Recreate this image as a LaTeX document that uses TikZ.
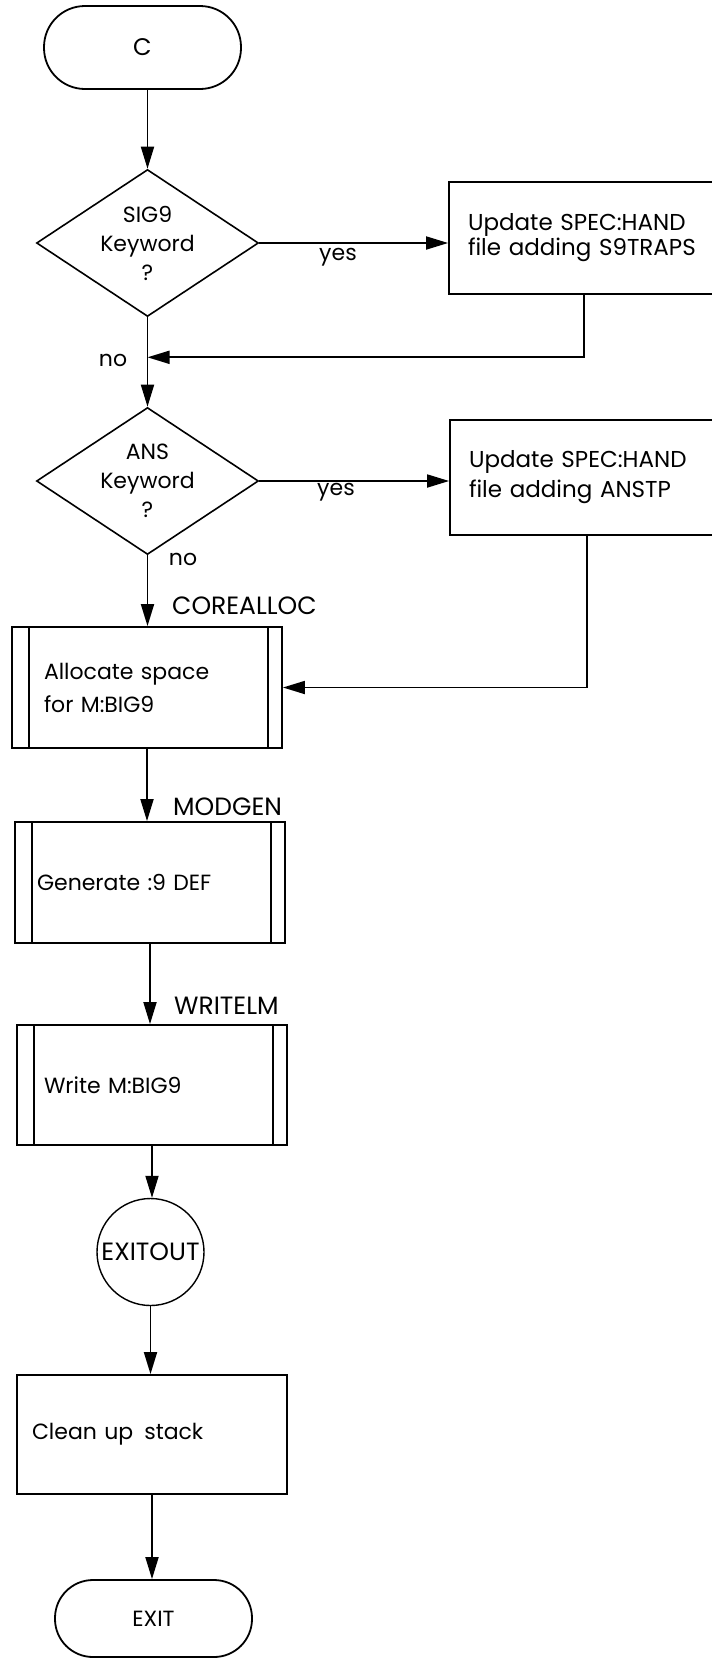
\documentclass[tikz,border=0pt]{standalone}
\usepackage{fontspec}
\setmainfont{Poppins}
\usetikzlibrary{shapes.geometric,arrows.meta}
\begin{document}
\begin{tikzpicture}[x=1pt,y=-1pt,
  every node/.style={font=\fontsize{22}{26}\selectfont},
  ln/.style={line width=1.8pt},
  arr/.style={ln,-{Triangle[length=22pt,width=13pt]}},
  term/.style={draw,ln,rectangle,minimum width=197pt,inner sep=0pt},
  dec/.style={draw,line width=1.6pt,diamond,minimum width=222pt,minimum height=147pt,aspect=1.5,inner sep=0pt,align=center},
  proc/.style={draw,ln,rectangle,align=left,inner ysep=0pt},
  lbl/.style={inner sep=0pt},
  sub/.style={inner sep=0pt,font=\fontsize{25}{28}\selectfont}
]
\useasboundingbox (0,0) rectangle (712,1660);
\clip (0,0) rectangle (712,1660);

% start
\node[term,minimum height=83pt,rounded corners=41pt,font=\fontsize{24}{26}\selectfont] (c) at (142.5,47.5) {C};

% decisions
\node[dec,font=\fontsize{22}{29}\selectfont] (d1) at (147.5,243) {SIG9\\Keyword\\?};
\node[dec,font=\fontsize{22}{29}\selectfont] (d2) at (147.5,481) {ANS\\Keyword\\?};

% side boxes (open to the right edge)
\node[proc,minimum width=300pt,minimum height=112pt,text width=262pt,inner xsep=19pt,font=\fontsize{23}{25}\selectfont] (b1) at (599,238) {Update SPEC:HAND\\file adding S9TRAPS};
\node[proc,minimum width=300pt,minimum height=115pt,text width=262pt,inner xsep=19pt,font=\fontsize{23}{30}\selectfont] (b2) at (600,477.5) {Update SPEC:HAND\\file adding ANSTP};

% predefined processes
\node[proc,minimum width=270pt,minimum height=121pt,text width=206pt,inner xsep=32pt,font=\fontsize{22}{33}\selectfont] (b3) at (147,687.5) {Allocate space\\for M:BIG9};
\node[proc,minimum width=270pt,minimum height=121pt,text width=226pt,inner xsep=22pt] (b4) at (150,882.5) {Generate :9 DEF};
\node[proc,minimum width=270pt,minimum height=120pt,text width=216pt,inner xsep=27pt] (b5) at (152,1085) {Write M:BIG9};
\foreach \b in {b3,b4,b5}{
  \draw[line width=1.4pt] ([xshift=18pt]\b.north west) -- ([xshift=18pt]\b.south west);
  \draw[line width=1.4pt] ([xshift=-15pt]\b.north east) -- ([xshift=-15pt]\b.south east);
}

% connector circle
\node[draw,line width=1.4pt,circle,minimum size=107pt,inner sep=0pt,font=\fontsize{25}{26}\selectfont] (eo) at (150.5,1252) {EXITOUT};

% clean up
\node[proc,minimum width=270pt,minimum height=119pt,text width=240pt,inner xsep=15pt] (b6) at (152,1434.5) {\raisebox{-8pt}{Clean up\enspace stack}};

% end
\node[term,minimum height=77pt,rounded corners=38pt] (ex) at (153.5,1618.5) {EXIT};

% labels
\node[lbl] (yes1) at (338,257) {yes};
\node[lbl] (no1) at (113,360) {no};
\node[lbl] (yes2) at (336,492) {yes};
\node[lbl] (no2) at (183,559) {no};
\node[sub,anchor=west] (l3) at (172,606) {COREALLOC};
\node[sub,anchor=west] (l4) at (173,807) {MODGEN};
\node[sub,anchor=west] (l5) at (174,1006) {WRITELM};

% connectors
\coordinate (j1) at ([yshift=-40pt]d1.south);
\draw[arr] (c.south -| d1.north) -- (d1.north);
\draw[arr] (d1.east) -- (d1.east -| b1.west);
\draw[arr] ([xshift=-15pt]b1.south) |- (j1);
\draw[arr] (d1.south) -- (d2.north);
\draw[arr] (d2.east) -- (d2.east -| b2.west);
\draw[arr] (d2.south) -- (d2.south |- b3.north);
\draw[arr] ([xshift=-13pt]b2.south) |- (b3.east);
\draw[arr] (b3.south) -- (b3.south |- b4.north);
\draw[arr] (b4.south) -- (b4.south |- b5.north);
\draw[arr] (b5.south) -- (b5.south |- eo.north);
\draw[arr] (eo.south) -- (eo.south |- b6.north);
\draw[arr] (b6.south) -- (b6.south |- ex.north);
\end{tikzpicture}
\end{document}
